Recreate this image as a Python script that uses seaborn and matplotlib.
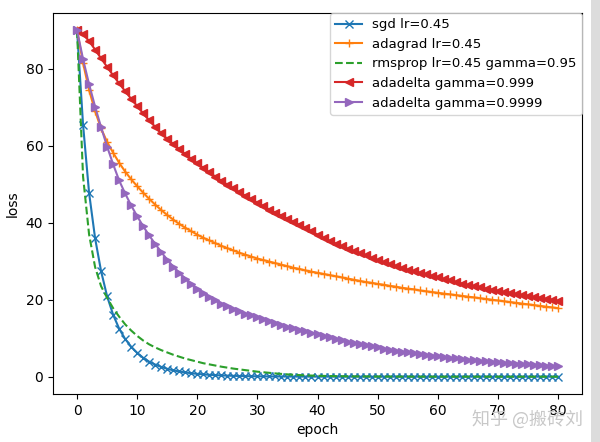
import numpy as np
import matplotlib
matplotlib.use('Agg')
import matplotlib.pyplot as plt
import seaborn as sns
from matplotlib.patches import Rectangle

# epochs 0..80
epochs = list(range(81))

# values
sgd = [90.0, 65.5, 47.8, 36.0, 27.4, 20.9, 16.1, 12.5, 9.8, 7.8,
       6.2, 4.9, 3.9, 3.15, 2.55, 2.05, 1.65, 1.35, 1.1, 0.9,
       0.73, 0.6, 0.49, 0.4, 0.33, 0.27, 0.22, 0.18, 0.15, 0.12,
       0.1, 0.08, 0.065, 0.055, 0.045, 0.037, 0.03, 0.025, 0.02, 0.016,
       0.013, 0.011, 0.009, 0.007, 0.006, 0.005, 0.004, 0.003, 0.003, 0.002,
       0.002, 0.002, 0.001, 0.001, 0.001, 0.001, 0.001, 0.0, 0.0, 0.0,
       0.0, 0.0, 0.0, 0.0, 0.0, 0.0, 0.0, 0.0, 0.0, 0.0,
       0.0, 0.0, 0.0, 0.0, 0.0, 0.0, 0.0, 0.0, 0.0, 0.0,
       0.0]

adagrad = [90.0, 81.5, 74.5, 69.0, 64.5, 61.0, 58.2, 55.6, 53.3, 51.3,
           49.5, 47.8, 46.2, 44.7, 43.3, 42.0, 40.8, 39.7, 38.7, 37.8,
           36.9, 36.1, 35.4, 34.7, 34.0, 33.4, 32.8, 32.2, 31.7, 31.2,
           30.7, 30.3, 29.9, 29.5, 29.1, 28.7, 28.3, 28.0, 27.6, 27.3,
           27.0, 26.7, 26.4, 26.1, 25.8, 25.5, 25.2, 24.9, 24.6, 24.4,
           24.1, 23.9, 23.6, 23.4, 23.1, 22.9, 22.7, 22.4, 22.2, 22.0,
           21.8, 21.6, 21.4, 21.2, 21.0, 20.8, 20.6, 20.4, 20.2, 20.0,
           19.8, 19.6, 19.4, 19.2, 19.0, 18.8, 18.6, 18.4, 18.2, 18.0,
           17.8]

rmsprop = [90.0, 52.0, 37.0, 28.5, 23.5, 20.5, 17.8, 15.6, 13.6, 12.0,
           10.6, 9.4, 8.4, 7.6, 6.9, 6.3, 5.7, 5.2, 4.7, 4.3,
           3.9, 3.5, 3.2, 2.9, 2.6, 2.35, 2.1, 1.9, 1.7, 1.5,
           1.3, 1.15, 1.0, 0.85, 0.72, 0.6, 0.5, 0.42, 0.35, 0.29,
           0.24, 0.2, 0.17, 0.14, 0.12, 0.1, 0.08, 0.07, 0.06, 0.05,
           0.04, 0.035, 0.03, 0.025, 0.02, 0.018, 0.015, 0.012, 0.01, 0.01,
           0.008, 0.007, 0.006, 0.005, 0.004, 0.004, 0.003, 0.003, 0.002, 0.002,
           0.002, 0.001, 0.001, 0.001, 0.001, 0.001, 0.0, 0.0, 0.0, 0.0,
           0.0]

adadelta_999 = [90.0, 89.0, 87.2, 85.0, 82.7, 80.5, 78.3, 76.2, 74.2, 72.2,
                70.3, 68.4, 66.6, 64.9, 63.2, 61.8, 60.4, 59.1, 57.8, 56.6,
                55.4, 54.2, 53.1, 52.0, 50.9, 49.9, 48.9, 47.9, 47.0, 46.1,
                45.2, 44.3, 43.4, 42.6, 41.8, 41.0, 40.2, 39.4, 38.6, 37.8,
                36.9, 36.1, 35.3, 34.6, 33.9, 33.3, 32.7, 32.1, 31.5, 30.9,
                30.3, 29.8, 29.3, 28.8, 28.3, 27.8, 27.4, 27.0, 26.6, 26.2,
                25.8, 25.4, 25.0, 24.6, 24.2, 23.8, 23.5, 23.2, 22.9, 22.6,
                22.3, 22.0, 21.8, 21.5, 21.2, 21.0, 20.7, 20.5, 20.2, 20.0,
                19.7]

adadelta_9999 = [90.0, 82.5, 76.0, 70.2, 64.8, 59.8, 55.2, 51.0, 47.6, 44.5,
                 41.7, 39.1, 36.7, 34.5, 32.4, 30.4, 28.6, 27.0, 25.5, 24.1,
                 22.8, 21.7, 20.7, 19.8, 19.0, 18.3, 17.6, 17.0, 16.4, 15.9,
                 15.4, 14.9, 14.4, 13.9, 13.5, 13.0, 12.6, 12.2, 11.8, 11.4,
                 11.0, 10.6, 10.2, 9.8, 9.5, 9.1, 8.8, 8.5, 8.2, 7.9,
                 7.6, 7.3, 7.0, 6.8, 6.5, 6.3, 6.1, 5.9, 5.7, 5.5,
                 5.3, 5.1, 4.9, 4.8, 4.6, 4.4, 4.3, 4.1, 4.0, 3.9,
                 3.7, 3.6, 3.5, 3.4, 3.3, 3.2, 3.1, 3.0, 2.9, 2.8,
                 2.7]

labels = ['sgd lr=0.45', 'adagrad lr=0.45', 'rmsprop lr=0.45 gamma=0.95',
          'adadelta gamma=0.999', 'adadelta gamma=0.9999']
series = [sgd, adagrad, rmsprop, adadelta_999, adadelta_9999]
colors = ['#1f77b4', '#ff7f0e', '#2ca02c', '#d62728', '#9467bd']
markers = ['x', '+', None, '<', '>']
styles = ['-', '-', '--', '-', '-']

plt.rcParams['font.size'] = 10

fig = plt.figure(figsize=(6, 4.42), dpi=100)
ax = fig.add_axes([53 / 600, 48 / 442, 529 / 600, 381 / 442])

for vals, lab, c, m, ls in zip(series, labels, colors, markers, styles):
    kw = dict(color=c, linestyle=ls, linewidth=1.5)
    if m is not None:
        kw.update(marker=m, markersize=6, markeredgecolor=c,
                  markerfacecolor=c, markeredgewidth=1.0)
    sns.lineplot(x=epochs, y=vals, label=lab, ax=ax, **kw)

ax.set_xticks(range(0, 81, 10))
ax.set_yticks(range(0, 81, 20))
ax.set_xlabel('epoch')
ax.set_ylabel('loss')
ax.legend(loc='upper right', bbox_to_anchor=(1, 1), borderaxespad=0, fontsize=9.5)

# light grey strip at the right edge of the screenshot
fig.patches.append(Rectangle((591 / 600, 0), 9 / 600, 1, transform=fig.transFigure,
                             facecolor='#dcdcdc', edgecolor='none', zorder=-1))

# watermark
fig.text(472 / 600, (442 - 419) / 442, '知乎 @搬砖刘', color='#c8c8c8', fontsize=13,
         va='center', ha='left', family=['Noto Sans CJK SC', 'DejaVu Sans'])

fig.savefig('out.png', dpi=100)
